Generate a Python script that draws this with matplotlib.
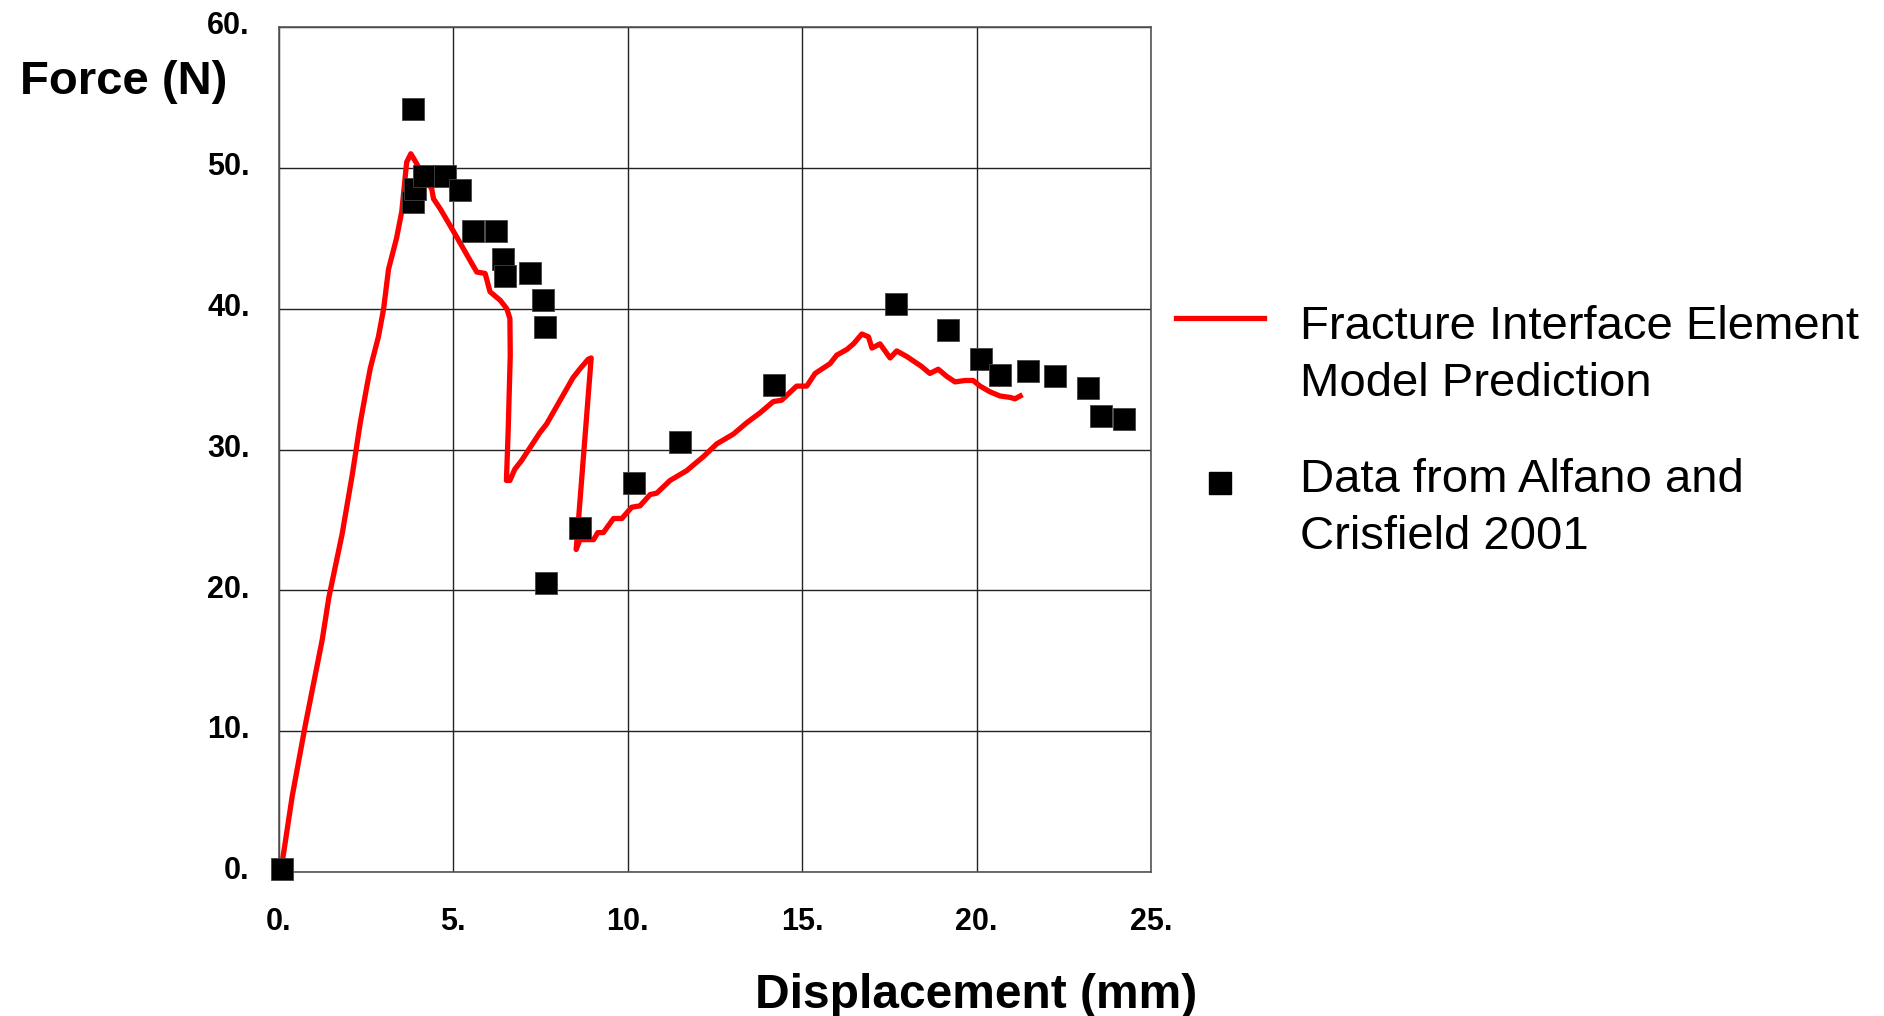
import numpy as np
import matplotlib.pyplot as plt
import matplotlib.transforms as mtransforms
from matplotlib.lines import Line2D

# model prediction curve (displacement mm, force N)
x_model = [0.05, 0.38, 0.76, 1.0, 1.24, 1.43, 1.81, 2.1, 2.33, 2.52, 2.62, 2.85, 3.0, 3.14,
           3.37, 3.52, 3.66, 3.78, 3.9, 4.1, 4.38, 4.43, 4.62, 5.0, 5.53, 5.67, 5.91, 6.05,
           6.34, 6.53, 6.62, 6.63, 6.57, 6.52, 6.62, 6.76, 6.95, 7.48, 7.67, 8.43, 8.62,
           8.86, 8.95, 8.52, 8.63, 9.02, 9.14, 9.30, 9.59, 9.83, 10.11, 10.35, 10.64, 10.83,
           11.21, 11.69, 11.88, 12.17, 12.55, 13.03, 13.41, 13.79, 14.17, 14.41, 14.84,
           15.13, 15.37, 15.80, 15.99, 16.28, 16.47, 16.71, 16.90, 17.0, 17.23, 17.52,
           17.71, 18.0, 18.42, 18.66, 18.90, 19.14, 19.38, 19.67, 19.9, 20.1, 20.38,
           20.67, 20.96, 21.1, 21.25]
y_model = [0.0, 5.4, 10.5, 13.5, 16.5, 19.5, 24.0, 28.2, 31.9, 34.5, 35.8, 38.0, 40.0, 42.8,
           45.0, 46.9, 50.4, 51.0, 50.5, 49.6, 48.5, 47.8, 47.1, 45.5, 43.2, 42.6, 42.5, 41.2,
           40.6, 40.0, 39.3, 36.7, 31.3, 27.8, 27.8, 28.6, 29.2, 31.2, 31.8, 35.1, 35.7,
           36.4, 36.5, 22.9, 23.6, 23.6, 24.1, 24.1, 25.1, 25.1, 25.9, 26.0, 26.8, 26.9,
           27.8, 28.5, 28.9, 29.5, 30.4, 31.1, 31.9, 32.6, 33.4, 33.5, 34.5,
           34.5, 35.4, 36.1, 36.7, 37.1, 37.5, 38.2, 38.0, 37.2, 37.5, 36.5,
           37.0, 36.6, 35.9, 35.4, 35.7, 35.2, 34.8, 34.9, 34.9, 34.5, 34.1,
           33.8, 33.7, 33.6, 33.8]

# experimental data (Alfano and Crisfield 2001)
x_exp = [0.1, 3.85, 3.83, 3.90, 4.15, 4.76, 5.18, 5.56, 6.23, 6.41, 6.47, 7.20, 7.56, 7.62,
         7.65, 8.64, 10.17, 11.51, 14.19, 17.68, 19.19, 20.14, 20.67, 21.47, 22.25, 23.18,
         23.57, 24.23]
y_exp = [0.2, 54.2, 47.6, 48.5, 49.4, 49.4, 48.4, 45.5, 45.5, 43.5, 42.3, 42.5, 40.6, 38.7,
         20.5, 24.4, 27.6, 30.5, 34.6, 40.3, 38.5, 36.4, 35.3, 35.6, 35.2, 34.4,
         32.4, 32.2]

x_ticks = [0, 5, 10, 15, 20, 25]
x_ticklabels = ['0.', '5.', '10.', '15.', '20.', '25.']
y_ticks = [0, 10, 20, 30, 40, 50, 60]
y_ticklabels = ['0.', '10.', '20.', '30.', '40.', '50.', '60.']

label_model = 'Fracture Interface Element\nModel Prediction'
label_exp = 'Data from Alfano and\nCrisfield 2001'

plt.rcParams['font.family'] = ['Liberation Sans', 'DejaVu Sans']

W, H = 1884, 1016
fig = plt.figure(figsize=(W / 100, H / 100), dpi=100)
ax = fig.add_axes([279 / W, 1 - 872 / H, (1151 - 279) / W, (872 - 27) / H])

ax.plot(x_model, y_model, color='#ff0000', lw=3.8, zorder=3)
ax.plot(x_exp, y_exp, ls='none', marker='s', ms=16.5, color='black',
        mec='#444444', mew=0.6, zorder=4, clip_on=False)

ax.set_xlim(0, 25)
ax.set_ylim(0, 60)
ax.set_xticks(x_ticks)
ax.set_xticklabels(x_ticklabels)
ax.set_yticks(y_ticks)
ax.set_yticklabels(y_ticklabels)
ax.tick_params(axis='both', length=0, labelsize=22)
ax.tick_params(axis='x', pad=25)
ax.tick_params(axis='y', pad=21)
# y labels sit a little above their gridlines in the original
lift = mtransforms.ScaledTranslation(0, 3 / 72, fig.dpi_scale_trans)
for lab in ax.get_yticklabels():
    lab.set_transform(lab.get_transform() + lift)
for lab in ax.get_xticklabels() + ax.get_yticklabels():
    lab.set_fontweight('bold')
ax.grid(True, color='#222222', lw=1.0)
ax.set_axisbelow(True)
for s in ax.spines.values():
    s.set_color('#555555')
    s.set_linewidth(1.2)

fig.text(20 / W, 1 - 82 / H, 'Force (N)', fontsize=34, fontweight='bold',
         ha='left', va='center')
fig.text(976 / W, 1 - 995 / H, 'Displacement (mm)', fontsize=34.5, fontweight='bold',
         ha='center', va='center')

# legend drawn by hand so the keys sit on the first text line
fig.add_artist(Line2D([1176 / W, 1264 / W], [1 - 318 / H, 1 - 318 / H],
                      color='#ff0000', lw=3.8, transform=fig.transFigure))
fig.add_artist(Line2D([1220 / W], [1 - 483 / H], marker='s', ms=15.5, color='black',
                      ls='none', transform=fig.transFigure))
fig.text(1300 / W, 1 - 305 / H, label_model, fontsize=34,
         ha='left', va='top', linespacing=1.37)
fig.text(1300 / W, 1 - 458 / H, label_exp, fontsize=34,
         ha='left', va='top', linespacing=1.37)

fig.savefig('out.png', dpi=100)
